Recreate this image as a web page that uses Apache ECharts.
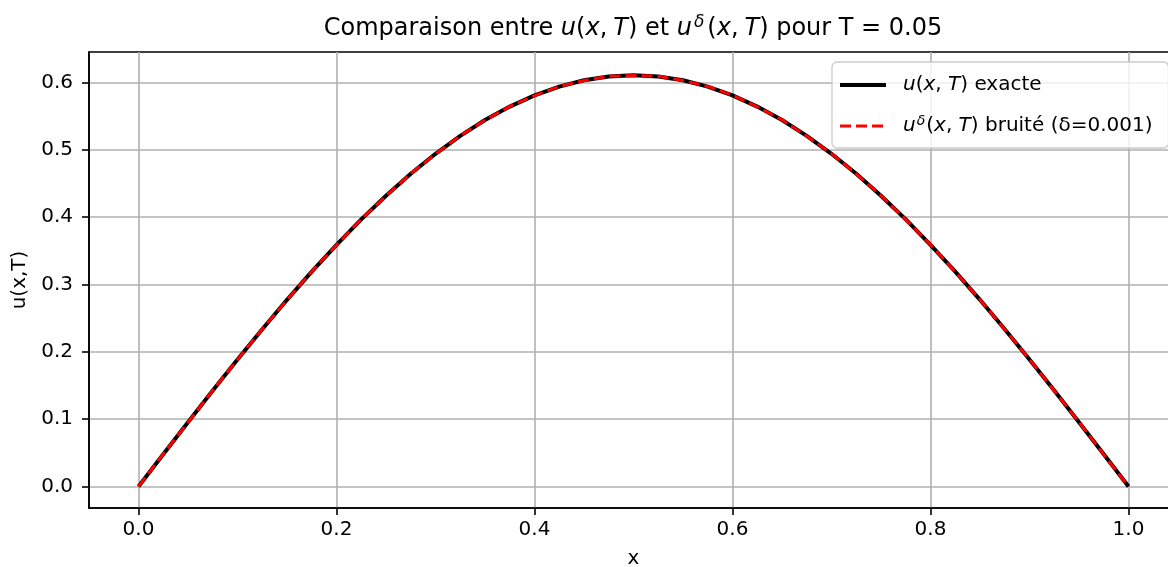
<!DOCTYPE html>
<html>
<head>
<meta charset="utf-8">
<script src="https://cdn.jsdelivr.net/npm/echarts@6/dist/echarts.min.js"></script>
<style>
html,body{margin:0;padding:0;background:#fff}
#main{width:1168px;height:567px}
</style>
</head>
<body>
<div id="main"></div>
<script>
// valeurs
var xVals = [0, 0.025, 0.05, 0.075, 0.1, 0.125, 0.15, 0.175, 0.2, 0.225, 0.25, 0.275, 0.3, 0.325, 0.35, 0.375, 0.4, 0.425, 0.45, 0.475, 0.5,
             0.525, 0.55, 0.575, 0.6, 0.625, 0.65, 0.675, 0.7, 0.725, 0.75, 0.775, 0.8, 0.825, 0.85, 0.875, 0.9, 0.925, 0.95, 0.975, 1.0];
var uExact = [0, 0.0479, 0.0955, 0.1425, 0.1887, 0.2336, 0.2772, 0.3190, 0.3588, 0.3965, 0.4317, 0.4642, 0.4939, 0.5205, 0.5440, 0.5640, 0.5806, 0.5936, 0.6030, 0.6086, 0.6105,
              0.6086, 0.6030, 0.5936, 0.5806, 0.5640, 0.5440, 0.5205, 0.4939, 0.4642, 0.4317, 0.3965, 0.3588, 0.3190, 0.2772, 0.2336, 0.1887, 0.1425, 0.0955, 0.0479, 0];
var uNoisy = [0.0002, 0.0483, 0.0951, 0.1429, 0.1884, 0.2339, 0.2768, 0.3193, 0.3585, 0.3969, 0.4314, 0.4645, 0.4936, 0.5208, 0.5437, 0.5643, 0.5803, 0.5939, 0.6027, 0.6089, 0.6102,
              0.6089, 0.6027, 0.5939, 0.5809, 0.5637, 0.5443, 0.5202, 0.4942, 0.4639, 0.4320, 0.3962, 0.3591, 0.3187, 0.2775, 0.2333, 0.1890, 0.1422, 0.0958, 0.0476, -0.0002];
var xTicks = [0, 0.2, 0.4, 0.6, 0.8, 1.0];
var yTicks = [0, 0.1, 0.2, 0.3, 0.4, 0.5, 0.6];

var FONT = 'DejaVu Sans';

function pairs(xs, ys) {
	var out = [];
	for (var i = 0; i < xs.length; i++) out.push([xs[i], ys[i]]);
	return out;
}

var richText = {
	n: {fontFamily: FONT, fontSize: 20, color: '#000', lineHeight: 24},
	i: {fontFamily: FONT, fontSize: 20, color: '#000', lineHeight: 24, fontStyle: 'italic'},
	pi: {fontFamily: FONT, fontSize: 20, color: '#000', lineHeight: 24, fontStyle: 'italic', padding: [0, 0, 0, 12]},
	s: {fontFamily: FONT, fontSize: 14, color: '#000', lineHeight: 14, fontStyle: 'italic', verticalAlign: 'top', padding: [0, 1, 0, 1]}
};

var titleRich = {
	n: {fontFamily: FONT, fontSize: 24, fill: '#000', lineHeight: 30},
	i: {fontFamily: FONT, fontSize: 24, fill: '#000', lineHeight: 30, fontStyle: 'italic'},
	c: {fontFamily: FONT, fontSize: 24, fill: '#000', lineHeight: 30, padding: [0, 6, 0, 0]},
	s: {fontFamily: FONT, fontSize: 17, fill: '#000', lineHeight: 17, fontStyle: 'italic', verticalAlign: 'top', padding: [0, 3, 0, 2]}
};

var myChart = echarts.init(document.getElementById('main'), null, {renderer: 'canvas'});
var option = {
	animation: false,
	backgroundColor: '#fff',
	grid: {
		left: 89, top: 52, width: 1089, height: 456,
		show: true, borderColor: '#000', borderWidth: 1.6,
		outerBoundsMode: 'none',
		containLabel: false
	},
	graphic: [{
		type: 'text',
		x: 633, y: 29,
		style: {
			text: '{n|Comparaison entre }{i|u}{n|(}{i|x}{c|,}{i|T}{n|) et }{i|u}{s|δ}{n|(}{i|x}{c|,}{i|T}{n|) pour T = 0.05}',
			align: 'center', verticalAlign: 'middle',
			rich: titleRich
		}
	}],
	legend: {
		orient: 'vertical',
		left: 832, top: 62,
		padding: [13, 16, 12, 6],
		itemWidth: 46, itemHeight: 14, itemGap: 19,
		backgroundColor: 'rgba(255,255,255,0.8)',
		borderColor: '#cccccc', borderWidth: 1.3, borderRadius: 5,
		data: [
			{name: 'exacte', itemStyle: {opacity: 0}, lineStyle: {width: 4, color: '#000'}},
			{name: 'bruite', itemStyle: {opacity: 0}, lineStyle: {width: 3, color: '#ff0000', type: [11, 5]}}
		],
		formatter: function (name) {
			if (name === 'exacte') return '{pi|u}{n|(}{i|x}{n|, }{i|T}{n|) exacte}';
			return '{pi|u}{s|δ}{n|(}{i|x}{n|, }{i|T}{n|) bruité (δ=0.001)}';
		},
		textStyle: {fontFamily: FONT, fontSize: 20, color: '#000', rich: richText}
	},
	xAxis: {
		type: 'value',
		min: -0.05, max: 1.05,
		name: 'x', nameLocation: 'middle', nameGap: 41,
		nameTextStyle: {fontFamily: FONT, fontSize: 20, color: '#000'},
		axisLine: {onZero: false, lineStyle: {color: '#000', width: 1.6}},
		axisTick: {show: true, length: 7, lineStyle: {color: '#000', width: 1.6}, customValues: xTicks},
		axisLabel: {
			fontFamily: FONT, fontSize: 20, color: '#000', margin: 12,
			customValues: xTicks,
			formatter: function (v) { return v.toFixed(1); }
		},
		splitLine: {show: true, lineStyle: {color: '#b0b0b0', width: 1.6}}
	},
	yAxis: {
		type: 'value',
		min: -0.0318, max: 0.645,
		name: 'u(x,T)', nameLocation: 'middle', nameGap: 58, nameRotate: 90,
		nameTextStyle: {fontFamily: FONT, fontSize: 20, color: '#000'},
		axisLine: {show: true, onZero: false, lineStyle: {color: '#000', width: 1.6}},
		axisTick: {show: true, length: 7, lineStyle: {color: '#000', width: 1.6}, customValues: yTicks},
		axisLabel: {
			fontFamily: FONT, fontSize: 20, color: '#000', margin: 16,
			customValues: yTicks,
			formatter: function (v) { return v.toFixed(1); }
		},
		splitLine: {show: true, lineStyle: {color: '#b0b0b0', width: 1.6}}
	},
	series: [
		{
			name: 'exacte',
			type: 'line',
			data: pairs(xVals, uExact),
			symbol: 'none',
			smooth: false,
			lineStyle: {color: '#000', width: 4},
			itemStyle: {color: '#000'},
			z: 2
		},
		{
			name: 'bruite',
			type: 'line',
			data: pairs(xVals, uNoisy),
			symbol: 'none',
			smooth: false,
			lineStyle: {color: '#ff0000', width: 3, type: [11, 5]},
			itemStyle: {color: '#ff0000'},
			z: 3
		}
	]
};
myChart.setOption(option);
</script>
</body>
</html>
